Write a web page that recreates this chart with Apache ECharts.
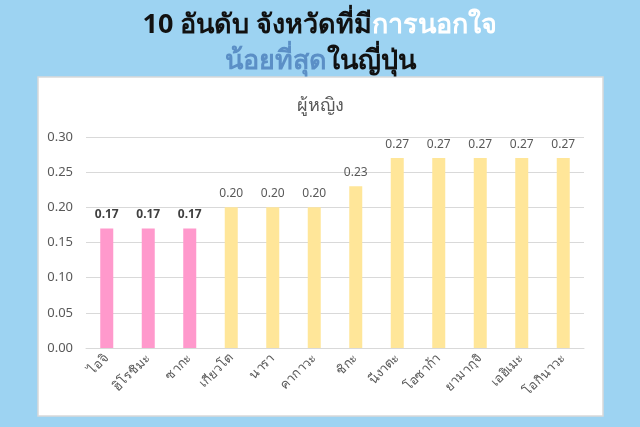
<!DOCTYPE html>
<html><head><meta charset="utf-8">
<script src="https://cdn.jsdelivr.net/npm/echarts@6/dist/echarts.min.js"></script>
<style>html,body{margin:0;padding:0;background:#9dd3f2;}#c{width:640px;height:427px;}</style>
</head><body><div id="c"></div>
<script>
const categories = ['ไอจิ','ฮิโรชิมะ','ซากะ','เกียวโต','นารา','คากาวะ','ชิกะ','นีงาตะ','โอซาก้า','ยามากุจิ','เอฮิเมะ','โอกินาวะ'];
const values = [0.17,0.17,0.17,0.20,0.20,0.20,0.23,0.27,0.27,0.27,0.27,0.27];
const highlighted = [true,true,true,false,false,false,false,false,false,false,false,false];
const yTicks = [0,0.05,0.10,0.15,0.20,0.25,0.30];

const chart = echarts.init(document.getElementById('c'));
const font = '"Noto Sans", "Open Sans", sans-serif';
chart.setOption({
  backgroundColor: '#9dd3f2',
  graphic: [{
    type: 'rect', z: -1,
    shape: {x: 38, y: 77, width: 565, height: 339},
    style: {fill: '#ffffff', stroke: '#d9d9d9', lineWidth: 1.5}
  }],
  title: [{
    text: '{k|10 อันดับ จังหวัดที่มี}{w|การนอกใจ}\n{b|น้อยที่สุด}{k|ในญี่ปุ่น}',
    left: 'center', top: 2,
    textStyle: {
      fontFamily: font, fontWeight: 'bold', fontSize: 27, lineHeight: 36,
      rich: {
        k: {color: '#111111', fontWeight: 'bold', fontSize: 27, fontFamily: font, lineHeight: 36},
        w: {color: '#ffffff', fontWeight: 'bold', fontSize: 27, fontFamily: font, lineHeight: 36},
        b: {color: '#5b8fc6', fontWeight: 'bold', fontSize: 27, fontFamily: font, lineHeight: 36}
      }
    }
  }, {
    text: 'ผู้หญิง', left: 'center', top: 92,
    textStyle: {color: '#595959', fontSize: 18, fontWeight: 'normal', fontFamily: font}
  }],
  grid: {left: 86, right: 56, top: 137, bottom: 79},
  xAxis: {
    type: 'category', data: categories,
    axisLine: {lineStyle: {color: '#d9d9d9'}},
    axisTick: {show: false},
    axisLabel: {rotate: 45, interval: 0, color: '#595959', fontSize: 13, fontFamily: font, margin: 8}
  },
  yAxis: {
    type: 'value', min: 0, max: 0.3, interval: 0.05,
    axisLine: {show: false}, axisTick: {show: false},
    splitLine: {lineStyle: {color: '#d9d9d9'}},
    axisLabel: {color: '#595959', fontSize: 13, fontFamily: font, margin: 13,
      formatter: v => v.toFixed(2)}
  },
  series: [{
    type: 'bar', barWidth: 13,
    data: values.map((v, i) => ({
      value: v,
      itemStyle: {color: highlighted[i] ? '#ff99cc' : '#ffe699'},
      label: highlighted[i] ? {fontWeight: 'bold', color: '#404040'} : {}
    })),
    label: {show: true, position: 'top', distance: 8, color: '#595959', fontSize: 12,
      fontFamily: font, formatter: p => p.value.toFixed(2)}
  }]
});
</script></body></html>
